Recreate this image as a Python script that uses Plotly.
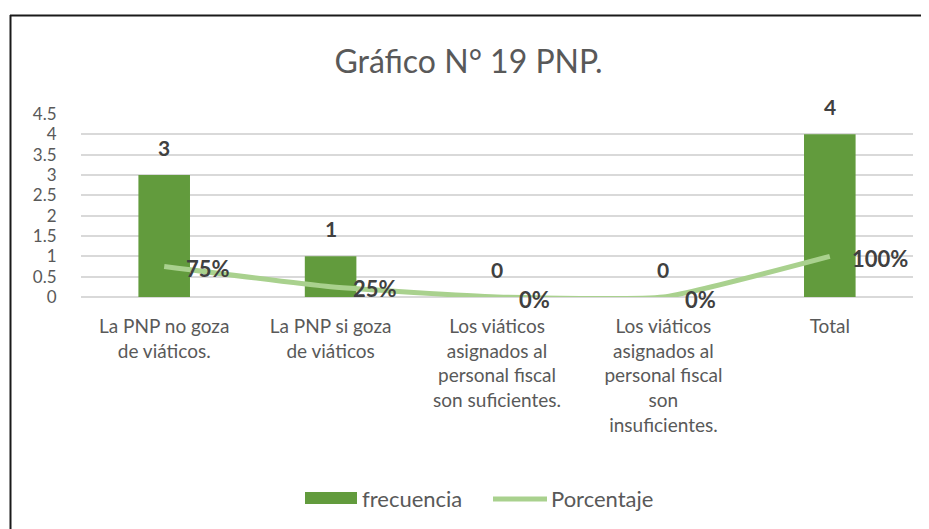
import plotly.graph_objects as go

categories = [
    "La PNP no goza de viáticos.",
    "La PNP si goza de viáticos",
    "Los viáticos asignados al personal fiscal son suficientes.",
    "Los viáticos asignados al personal fiscal son insuficientes.",
    "Total",
]
tick_labels = [
    "La PNP no goza<br>de viáticos.",
    "La PNP si goza<br>de viáticos",
    "Los viáticos<br>asignados al<br>personal fiscal<br>son suficientes.",
    "Los viáticos<br>asignados al<br>personal fiscal<br>son<br>insuficientes.",
    "Total",
]
frecuencia = [3, 1, 0, 0, 4]
porcentaje = [0.75, 0.25, 0, 0, 1.0]
porcentaje_labels = ["75%", "25%", "0%", "0%", "100%"]
series_names = ["frecuencia", "Porcentaje"]
title_text = "Gráfico N° 19 PNP."

FONT = "Lato"
TXT = "#595959"
LBL = "#404040"
BAR_C = "#629b3d"
LINE_C = "#a9d18e"

# page body has an 8px margin: work in window pixels, convert to figure pixels
OFF = 8
W, H = 929 - OFF, 529 - OFF
PL, PR, PT, PB = 81, 913, 114, 297  # plot area in window pixels
L, R, T, B = PL - OFF, W - (PR - OFF), PT - OFF, H - (PB - OFF)
pw, ph = W - L - R, H - T - B


def px_x(x):
    return (x - OFF - L) / pw


def px_y(y):
    return 1 - (y - OFF - T) / ph


fig = go.Figure()
fig.add_trace(go.Bar(
    x=categories, y=frecuencia, name=series_names[0],
    marker=dict(color=BAR_C, line=dict(width=0)), showlegend=False,
))
fig.add_trace(go.Scatter(
    x=categories, y=porcentaje, name=series_names[1], mode="lines",
    line=dict(color=LINE_C, width=5, shape="spline", smoothing=0.45),
    showlegend=False,
))

annotations = []
for c, v in zip(categories, frecuencia):
    annotations.append(dict(
        x=c, y=v, xref="x", yref="y", text=f"<b>{v}</b>", showarrow=False,
        yshift=28, font=dict(family=FONT, size=21, color=LBL),
    ))
for c, v, t in zip(categories, porcentaje, porcentaje_labels):
    annotations.append(dict(
        x=c, y=v, xref="x", yref="y", text=f"<b>{t}</b>", showarrow=False,
        xanchor="left", xshift=20, yshift=-2,
        font=dict(family=FONT, size=22, color=LBL),
    ))

# legend (drawn manually to match the wide swatches)
annotations.append(dict(xref="paper", yref="paper", x=px_x(360), y=px_y(498),
                        xanchor="left", yanchor="middle", showarrow=False,
                        text=series_names[0], font=dict(family=FONT, size=22, color=TXT)))
annotations.append(dict(xref="paper", yref="paper", x=px_x(549), y=px_y(498),
                        xanchor="left", yanchor="middle", showarrow=False,
                        text=series_names[1], font=dict(family=FONT, size=22, color=TXT)))

shapes = [
    dict(type="line", xref="paper", yref="paper", x0=px_x(10), x1=px_x(929),
         y0=px_y(15.5), y1=px_y(15.5), line=dict(color="#1a1a1a", width=2)),
    dict(type="line", xref="paper", yref="paper", x0=px_x(10.5), x1=px_x(10.5),
         y0=px_y(15), y1=px_y(529), line=dict(color="#1a1a1a", width=2)),
    dict(type="rect", xref="paper", yref="paper", x0=px_x(305), x1=px_x(357),
         y0=px_y(492), y1=px_y(504), fillcolor=BAR_C, line=dict(width=0)),
    dict(type="line", xref="paper", yref="paper", x0=px_x(493), x1=px_x(547),
         y0=px_y(499), y1=px_y(499), line=dict(color=LINE_C, width=5)),
]

fig.update_layout(
    width=W, height=H,
    margin=dict(l=L, r=R, t=T, b=B),
    paper_bgcolor="white", plot_bgcolor="white",
    title=dict(text=title_text, x=0.5, xanchor="center", y=1 - (62 - OFF) / H,
               yanchor="middle", font=dict(family=FONT, size=32, color=TXT)),
    bargap=0.69,
    showlegend=False,
    annotations=annotations,
    shapes=shapes,
)
fig.update_xaxes(
    tickmode="array", tickvals=categories, ticktext=tick_labels,
    tickfont=dict(family=FONT, size=19, color=TXT),
    ticks="outside", ticklen=12, tickcolor="rgba(0,0,0,0)",
    showline=False, showgrid=False,
)
fig.update_yaxes(
    range=[0, 4.5], dtick=0.5, tick0=0,
    tickfont=dict(family=FONT, size=17, color=TXT),
    ticks="outside", ticklen=20, tickcolor="rgba(0,0,0,0)",
    showgrid=True, gridcolor="#d9d9d9", gridwidth=1.5,
    zeroline=True, zerolinecolor="#d9d9d9", zerolinewidth=1.5,
    showline=False,
)

fig.write_html("out.html")
